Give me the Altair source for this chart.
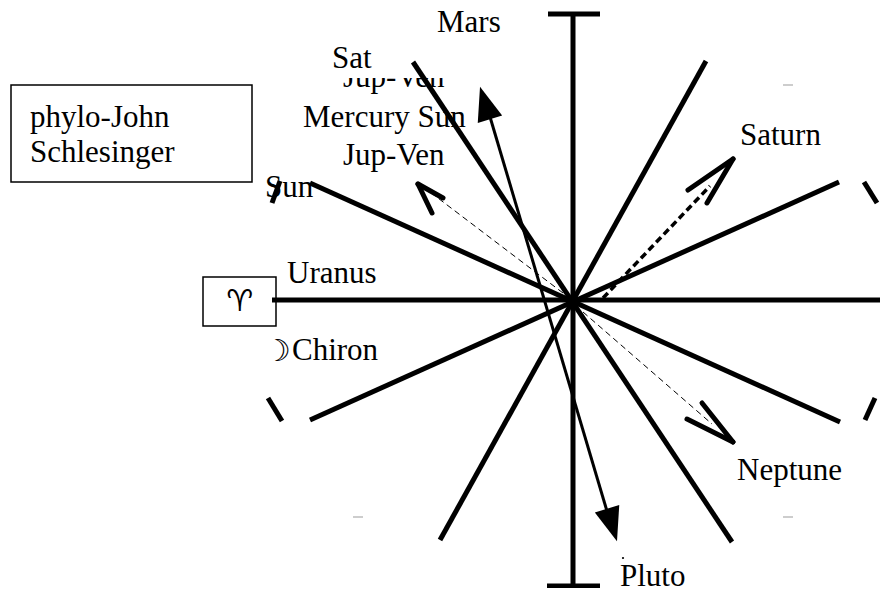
import altair as alt
import pandas as pd

# ---------------- data (page pixel coordinates) -------------
# thick spokes of the wheel + the two end caps of the vertical axis
spoke_x1 = [573, 272, 310, 310, 413, 706, 548, 547]
spoke_y1 = [15, 300, 183, 420, 62, 61, 14, 586]
spoke_x2 = [573, 888, 840, 839, 732, 440, 600, 600]
spoke_y2 = [586, 300, 422, 182, 542, 540, 14, 586]

# short pieces of the dashed outer circle
arc_x1 = [280, 268, 864, 875]
arc_y1 = [181, 398, 182, 398]
arc_x2 = [272, 282, 877, 865]
arc_y2 = [203, 421, 203, 420]

# open arrow heads (chevrons): tip + two arm ends
chev_tip_x = [418, 733, 733]
chev_tip_y = [184, 159, 442]
chev_arm1_x = [443, 688, 687]
chev_arm1_y = [198, 190, 419]
chev_arm2_x = [432, 707, 702]
chev_arm2_y = [213, 203, 403]

# thin dashed shafts (upper-left, lower-right) and thick dashed shaft (upper-right)
thin_dash_x1 = [563, 583]
thin_dash_y1 = [293, 312]
thin_dash_x2 = [430, 712]
thin_dash_y2 = [192, 424]
thick_dash_x1 = [603]
thick_dash_y1 = [298]
thick_dash_x2 = [710]
thick_dash_y2 = [186]

# double headed arrow (Mars -> Pluto)
arrow_x1, arrow_y1, arrow_x2, arrow_y2 = [485], [100], [612], [528]
head_x = [485, 612]
head_y = [103, 525]
head_angle = [343, 163]

# faint grey tick marks
grey_x1 = [783, 783, 353]
grey_y1 = [85, 517, 517]
grey_x2 = [793, 793, 363]
grey_y2 = [85, 517, 517]

# labels: left edge x, baseline y
label_text = ["Mars", "Sat", "Mercury Sun", "Jup-Ven", "Sun", "Uranus", "Chiron",
              "Saturn", "Neptune", "Pluto", "phylo-John", "Schlesinger"]
label_x = [437, 332, 303, 343, 265, 287, 292, 740, 737, 620, 30, 30]
label_y = [32, 68, 127, 165, 197, 283, 360, 145, 480, 586, 127, 162]

# moon glyph in front of "Chiron"
moon_text = ["☽"]
moon_x = [264]
moon_y = [361]

# the half hidden label
hidden_text = ["Jup-Ven"]
hidden_x = [343]
hidden_y = [87]

# boxes
box_x1 = [11, 203]
box_y1 = [85, 277]
box_x2 = [252, 276]
box_y2 = [182, 326]
aries = ["♈"]
aries_x = [240]
aries_y = [302]

dot_x, dot_y = [623], [558]

# ---------------- chart -------------
W, H = 872, 580
Y_TOP = 8
xs = alt.Scale(domain=[8, 8 + W], nice=False, zero=False)
ys = alt.Scale(domain=[Y_TOP, Y_TOP + H], nice=False, zero=False, reverse=True)


def X(f="x"):
    return alt.X(f + ":Q", scale=xs, axis=None)


def Y(f="y"):
    return alt.Y(f + ":Q", scale=ys, axis=None)


def segs(x1, y1, x2, y2):
    return pd.DataFrame({"x": x1, "y": y1, "x2": x2, "y2": y2})


def rule_layer(df, **kw):
    return alt.Chart(df).mark_rule(**kw).encode(
        x=X("x"), y=Y("y"), x2="x2:Q", y2="y2:Q")


def text_layer(t, x, y, **kw):
    return alt.Chart(pd.DataFrame({"t": t, "x": x, "y": y})).mark_text(**kw).encode(
        x=X(), y=Y(), text="t:N")


serif = dict(align="left", baseline="alphabetic", font="Liberation Serif", fontSize=31, color="black")

hidden = text_layer(hidden_text, hidden_x, hidden_y, **serif)

cover = alt.Chart(pd.DataFrame({"x": [338], "y": [60], "x2": [452], "y2": [78]})).mark_rect(
    fill="white").encode(x=X("x"), y=Y("y"), x2="x2:Q", y2="y2:Q")

boxes = alt.Chart(segs(box_x1, box_y1, box_x2, box_y2)).mark_rect(
    fill="white", stroke="black", strokeWidth=1.5).encode(
    x=X("x"), y=Y("y"), x2="x2:Q", y2="y2:Q")

labels = text_layer(label_text, label_x, label_y, **serif)
moon = text_layer(moon_text, moon_x, moon_y, align="left", baseline="alphabetic",
                  font="DejaVu Sans", fontSize=30, fontWeight="bold", color="black")
aries_t = text_layer(aries, aries_x, aries_y, align="center", baseline="middle",
                     font="DejaVu Sans", fontSize=30, color="black")

grey = rule_layer(segs(grey_x1, grey_y1, grey_x2, grey_y2), color="#bdbdbd", strokeWidth=1.5)
spokes = rule_layer(segs(spoke_x1, spoke_y1, spoke_x2, spoke_y2), color="black", strokeWidth=5)
arcs = rule_layer(segs(arc_x1, arc_y1, arc_x2, arc_y2), color="black", strokeWidth=5)
chev = rule_layer(
    segs(chev_tip_x * 2, chev_tip_y * 2, chev_arm1_x + chev_arm2_x, chev_arm1_y + chev_arm2_y),
    color="black", strokeWidth=5, strokeCap="round")
thin_d = rule_layer(segs(thin_dash_x1, thin_dash_y1, thin_dash_x2, thin_dash_y2),
                    color="black", strokeWidth=1, strokeDash=[6, 4])
thick_d = rule_layer(segs(thick_dash_x1, thick_dash_y1, thick_dash_x2, thick_dash_y2),
                     color="black", strokeWidth=3.5, strokeDash=[7, 4])
shaft = rule_layer(segs(arrow_x1, arrow_y1, arrow_x2, arrow_y2), color="black", strokeWidth=3)
heads = alt.Chart(pd.DataFrame({"x": head_x, "y": head_y, "a": head_angle})).mark_point(
    shape="M0,-1L0.75,1L-0.75,1Z", filled=True, color="black", opacity=1, size=1156,
    strokeWidth=0).encode(x=X(), y=Y(), angle=alt.Angle("a:Q", scale=None))
dot = alt.Chart(pd.DataFrame({"x": dot_x, "y": dot_y})).mark_point(
    filled=True, color="black", size=5, opacity=1).encode(x=X(), y=Y())

chart = alt.layer(
    hidden, cover, boxes, labels, moon, aries_t, grey, spokes, arcs, thin_d, thick_d, chev,
    shaft, heads, dot
).properties(width=W, height=H, padding=0, autosize=alt.AutoSizeParams(type="none")
).configure_view(stroke=None)

chart.save("out.html", embed_options={"renderer": "svg", "actions": False})
